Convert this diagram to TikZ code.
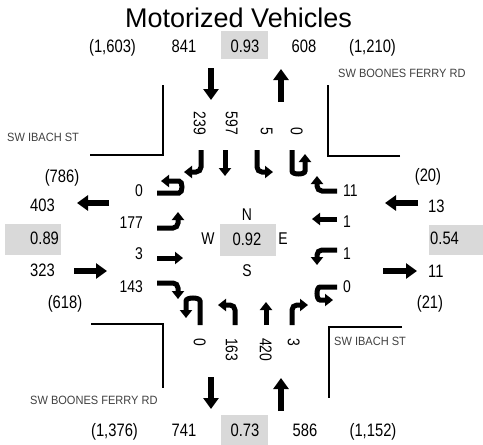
\documentclass[tikz,border=0pt]{standalone}
\usepackage{fontspec}
\setmainfont{Liberation Sans}
\newfontfamily\nar{Liberation Sans}[FakeStretch=0.82]
\newfontfamily\roadf{Liberation Sans}[FakeStretch=0.92]
\usetikzlibrary{arrows.meta}
\definecolor{boxgray}{HTML}{D9D9D9}
\definecolor{roadgray}{HTML}{404040}
\tikzset{
  numlbl/.style={font=\nar\fontsize{18}{20}\selectfont, inner sep=0pt, text height=12.9pt, text depth=0pt},
  inlbl/.style={font=\nar\fontsize{17}{19}\selectfont, inner sep=0pt, text height=12.2pt, text depth=0pt},
  roadlbl/.style={font=\roadf\fontsize{12}{14}\selectfont, text=roadgray, inner sep=0pt, text height=8.6pt, text depth=0pt, anchor=west},
  gbox/.style={fill=boxgray, draw=none},
  bigarrow/.style={line width=5.5pt, -{Triangle[length=11pt,width=15pt]}},
  mvarrow/.style={line width=5pt, rounded corners=5pt, -{Triangle[length=8pt,width=12pt]}},
  curb/.style={line width=1.5pt}
}
\begin{document}
\begin{tikzpicture}[x=1pt,y=-1pt]
\useasboundingbox (0,0) rectangle (483,445);
% title
\node[font=\fontsize{27}{30}\selectfont, inner sep=0pt, anchor=base] (title) at (238.5,27) {Motorized Vehicles};
% gray boxes
\path[gbox] (221,31) rectangle (268,59);
\path[gbox] (220,224) rectangle (276,256);
\path[gbox] (5,224) rectangle (61,255);
\path[gbox] (429,225) rectangle (483,255);
\path[gbox] (221,415) rectangle (268,445);
% top row
\node[numlbl] (tA) at (112.5,46) {(1,603)};
\node[numlbl] (tB) at (184,46) {841};
\node[numlbl] (tC) at (245,46) {0.93};
\node[numlbl] (tD) at (304,46) {608};
\node[numlbl] (tE) at (372.5,46) {(1,210)};
% bottom row
\node[numlbl] (bA) at (114.5,430) {(1,376)};
\node[numlbl] (bB) at (184,430) {741};
\node[numlbl] (bC) at (245,430) {0.73};
\node[numlbl] (bD) at (305,430) {586};
\node[numlbl] (bE) at (373,430) {(1,152)};
% left side
\node[numlbl] (lA) at (62,176) {(786)};
\node[numlbl, anchor=west] (lB) at (30,205) {403};
\node[numlbl, anchor=west] (lC) at (30,238) {0.89};
\node[numlbl, anchor=west] (lD) at (30,270) {323};
\node[numlbl] (lE) at (65,302) {(618)};
% right side
\node[numlbl] (rA) at (428,175) {(20)};
\node[numlbl, anchor=west] (rB) at (428,206) {13};
\node[numlbl, anchor=west] (rC) at (430,238) {0.54};
\node[numlbl, anchor=west] (rD) at (428,271) {11};
\node[numlbl] (rE) at (430,302) {(21)};
% road names
\node[roadlbl] (rd1) at (338,73) {SW BOONES FERRY RD};
\node[roadlbl] (rd2) at (30,400) {SW BOONES FERRY RD};
\node[roadlbl] (rd3) at (7,137) {SW IBACH ST};
\node[roadlbl] (rd4) at (334,341) {SW IBACH ST};
% center
\node[inlbl] (cN) at (247,214) {N};
\node[inlbl] (cW) at (208,238) {W};
\node[inlbl] (cE) at (283,238) {E};
\node[inlbl] (cS) at (247,270) {S};
\node[numlbl] (cC) at (247,239) {0.92};
% curbs
\draw[curb] (90,155) -- (163,155) -- (163,85);
\draw[curb] (400,156) -- (328,156) -- (328,85);
\draw[curb] (91,324) -- (163,324) -- (163,388);
\draw[curb] (402,327) -- (329,327) -- (329,398);
% big approach arrows
\draw[bigarrow] (211,68) -- (211,100);
\draw[bigarrow] (281,102) -- (281,69);
\draw[bigarrow] (211,377) -- (211,409);
\draw[bigarrow] (281,411) -- (281,378);
\draw[bigarrow] (109,203) -- (77,203);
\draw[bigarrow] (74,271) -- (107,271);
\draw[bigarrow] (418,203) -- (385,203);
\draw[bigarrow] (383,271) -- (417,271);
% southbound movements
\draw[mvarrow] (201,150) -- (201,172) -- (184,172);
\draw[mvarrow] (225,150) -- (225,176);
\draw[mvarrow] (257,150) -- (257,172) -- (273,172);
\draw[mvarrow] (292,150) -- (292,166) .. controls (292,175) and (305,175) .. (305,166) -- (305,154);
\node[inlbl, rotate=-90, anchor=east] (s1) at (200,135) {239};
\node[inlbl, rotate=-90, anchor=east] (s2) at (232,135) {597};
\node[inlbl, rotate=-90, anchor=east] (s3) at (267,135) {5};
\node[inlbl, rotate=-90, anchor=east] (s4) at (297,135) {0};
% northbound movements
\draw[mvarrow] (200,325) -- (200,306) .. controls (200,297) and (186,297) .. (186,306) -- (186,318);
\draw[mvarrow] (235,325) -- (235,305) -- (218,305);
\draw[mvarrow] (266,325) -- (266,302);
\draw[mvarrow] (292,325) -- (292,305) -- (308,305);
\node[inlbl, rotate=-90, anchor=west] (n1) at (200,338) {0};
\node[inlbl, rotate=-90, anchor=west] (n2) at (232,338) {163};
\node[inlbl, rotate=-90, anchor=west] (n3) at (266,338) {420};
\node[inlbl, rotate=-90, anchor=west] (n4) at (294,338) {3};
% eastbound movements
\draw[mvarrow] (157,193) -- (174,193) .. controls (183,193) and (183,181) .. (174,181) -- (161,181);
\draw[mvarrow] (157,228) -- (178,228) -- (178,212);
\draw[mvarrow] (157,258) -- (183,258);
\draw[mvarrow] (157,283) -- (178,283) -- (178,299);
\node[inlbl, anchor=east] (e1) at (143,190) {0};
\node[inlbl, anchor=east] (e2) at (143,222) {177};
\node[inlbl, anchor=east] (e3) at (143,253) {3};
\node[inlbl, anchor=east] (e4) at (143,286) {143};
% westbound movements
\draw[mvarrow] (337,191) -- (317,191) -- (317,176);
\draw[mvarrow] (337,219) -- (312,219);
\draw[mvarrow] (337,250) -- (317,250) -- (317,265);
\draw[mvarrow] (337,287) -- (325,287) .. controls (316,287) and (316,300) .. (325,300) -- (333,300);
\node[inlbl, anchor=west] (w1) at (343,190) {11};
\node[inlbl, anchor=west] (w2) at (343,221) {1};
\node[inlbl, anchor=west] (w3) at (343,253) {1};
\node[inlbl, anchor=west] (w4) at (343,286) {0};
\end{tikzpicture}
\end{document}
